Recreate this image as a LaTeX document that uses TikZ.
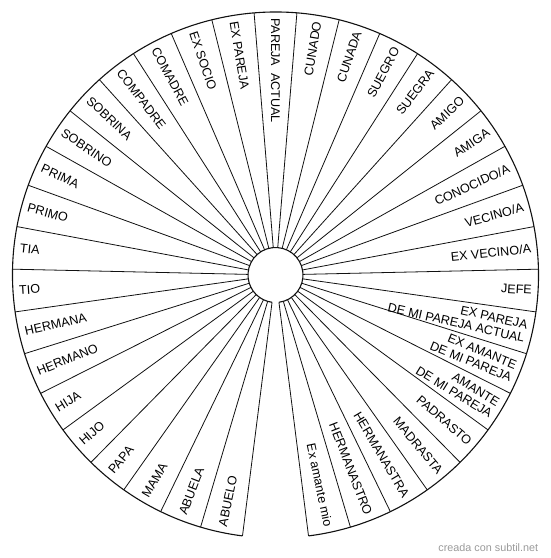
\documentclass[tikz,border=0pt]{standalone}
\usepackage{fontspec}
\setmainfont{Liberation Sans}
\definecolor{wheelLine}{HTML}{111111}
\definecolor{creditGray}{HTML}{9A9A9A}

\begin{document}
\begin{tikzpicture}[x=1pt,y=1pt,
  font=\fontsize{12.6}{13.6}\selectfont,
  rim/.style={draw=wheelLine,line width=1.1pt},
  spoke/.style={draw=wheelLine,line width=0.8pt},
  lblR/.style={inner sep=0pt,anchor=east,align=right},
  lblL/.style={inner sep=0pt,anchor=west,align=left},
  credit/.style={inner sep=0pt,anchor=base east,text=creditGray,
                 font=\fontsize{10.8}{12}\selectfont}
]
\def\wstep{9.34}
\def\wR{263}
\def\wr{27.5}
\def\wlab{257}
\useasboundingbox (-275.5,-283) rectangle (274.5,275);
% outer and inner rims, open at the bottom
\draw[rim] (-82.79:\wR) arc[start angle=-82.79,end angle=262.79,radius=\wR];
\draw[rim] (-82.79:\wr) arc[start angle=-82.79,end angle=262.79,radius=\wr];
% spokes
\foreach \k in {0,...,18}{
  \draw[spoke] ({90+(\k+0.5)*\wstep}:\wr) -- ({90+(\k+0.5)*\wstep}:\wR);
  \draw[spoke] ({90-(\k+0.5)*\wstep}:\wr) -- ({90-(\k+0.5)*\wstep}:\wR);
}
% top sector
\node[lblL,rotate=-90] (top) at (90:\wlab) {PAREJA\ \ ACTUAL};
% right half, clockwise from the top
\foreach \txt [count=\i] in {CUNADO,CUNADA,SUEGRO,SUEGRA,AMIGO,AMIGA,
    CONOCIDO/A,VECINO/A,EX VECINO/A,JEFE,{EX PAREJA\\DE MI PAREJA ACTUAL},
    {EX AMANTE\\DE MI PAREJA},{AMANTE\\DE MI PAREJA},PADRASTO,MADRASTA,
    HERMANASTRA,HERMANASTRO,Ex amante mio}{
  \pgfmathsetmacro\a{90-\i*\wstep}
  \node[lblR,rotate=\a] (r\i) at (\a:\wlab) {\txt};
}
% left half, counterclockwise from the top
\foreach \txt [count=\i] in {EX PAREJA,EX SOCIO,COMADRE,COMPADRE,SOBRINA,
    SOBRINO,PRIMA,PRIMO,TIA,TIO,HERMANA,HERMANO,HIJA,HIJO,PAPA,MAMA,
    ABUELA,ABUELO}{
  \pgfmathsetmacro\a{90+\i*\wstep}
  \node[lblL,rotate=\a-180] (l\i) at (\a:\wlab) {\txt};
}
\node[credit] (mark) at (262.8,-276) {creada con subtil.net};
\end{tikzpicture}
\end{document}
